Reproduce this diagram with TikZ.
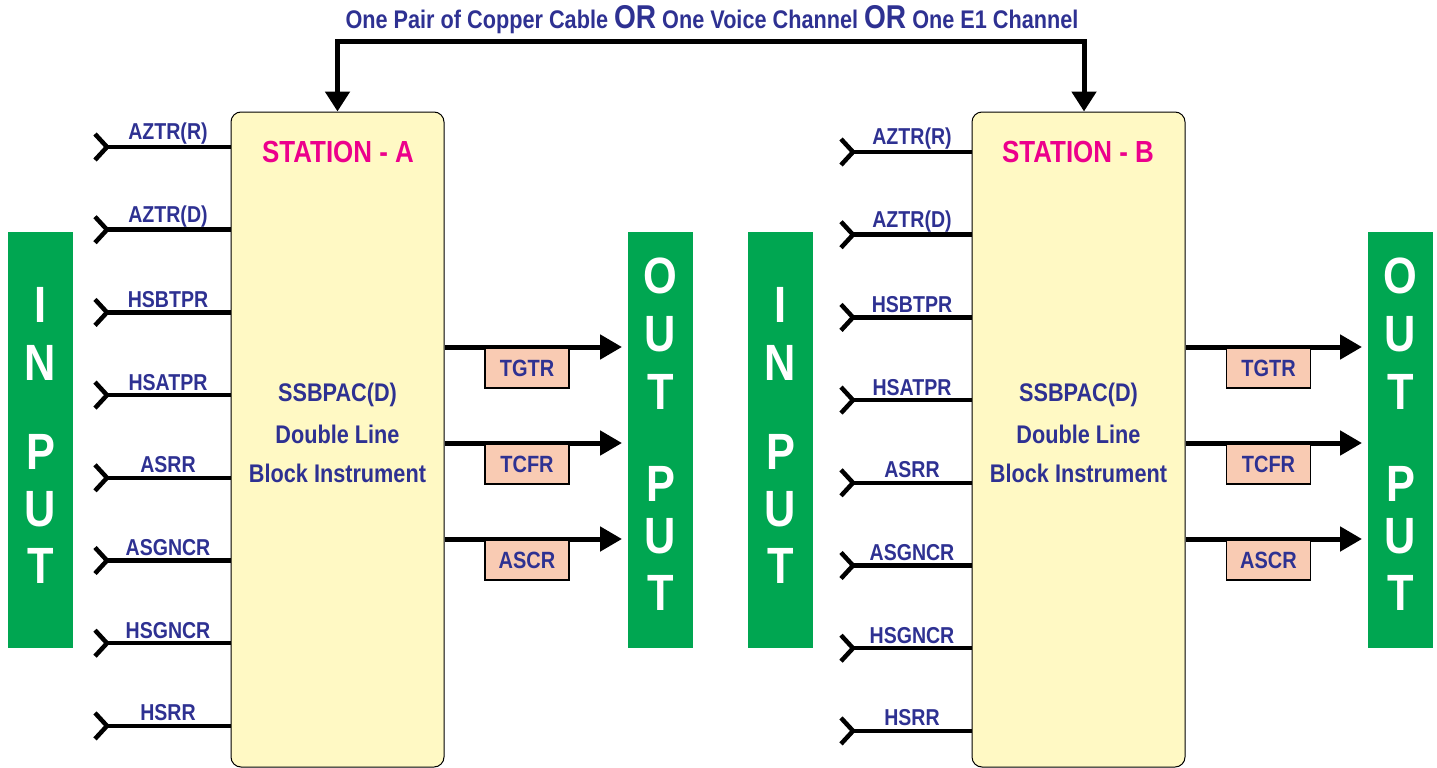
\documentclass[tikz,border=0pt]{standalone}
\usepackage{fontspec}
\setmainfont{Liberation Sans}[FakeStretch=0.85]
\usetikzlibrary{arrows.meta}
\definecolor{tblue}{HTML}{2E3192}
\definecolor{tmag}{HTML}{EC008C}
\definecolor{tgreen}{HTML}{00A651}
\definecolor{tyel}{HTML}{FFF9C4}
\definecolor{tpeach}{HTML}{F9CBB3}
\begin{document}
\begin{tikzpicture}[x=1pt,y=-1pt,
  sbox/.style={draw=black,line width=1pt,fill=tyel,rounded corners=10pt,minimum width=213pt,minimum height=655pt,inner sep=0pt},
  gbox/.style={fill=tgreen,minimum width=65pt,minimum height=416pt,inner sep=0pt},
  gletter/.style={text=white,font=\bfseries\fontsize{51}{51}\selectfont,inner sep=0pt},
  inlabel/.style={text=tblue,font=\bfseries\fontsize{23}{23}\selectfont,inner sep=0pt},
  outlabel/.style={draw=black,line width=1.5pt,fill=tpeach,minimum width=84pt,minimum height=40pt,inner sep=0pt,text=tblue,font=\bfseries\fontsize{23.5}{23.5}\selectfont},
  stlabel/.style={text=tmag,font=\bfseries\fontsize{30.5}{30.5}\selectfont,inner sep=0pt},
  ctext/.style={text=tblue,font=\bfseries\fontsize{25.5}{25.5}\selectfont,inner sep=0pt},
  inline/.style={line width=4.5pt},
  chev/.style={line width=4.5pt,miter limit=10},
  outarr/.style={line width=5pt,-{Triangle[length=22pt,width=24pt]}},
  toparr/.style={line width=5pt,{Triangle[length=20pt,width=24pt]}-{Triangle[length=20pt,width=24pt]}}]
\useasboundingbox (0,0) rectangle (1437,768);
% station boxes
\node[sbox] (A) at (337.5,439.5) {};
\node[sbox] (B) at (1078.5,439.5) {};
% green boxes
\node[gbox] (inA) at (40.5,440) {};
\node[gbox] (outA) at (660.5,440) {};
\node[gbox] (inB) at (780.5,440) {};
\node[gbox] (outB) at (1400.5,440) {};
% INPUT letters
\foreach \l/\y [count=\k] in {I/305,N/363,P/452,U/509,T/566}{
  \node[gletter] (ia\k) at (40.5,\y) {\l};
  \node[gletter] (ib\k) at (780.5,\y) {\l};
}
% OUTPUT letters
\foreach \l/\y [count=\k] in {O/276,U/334,T/392,P/484,U/536,T/593}{
  \node[gletter] (oa\k) at (660.5,\y) {\l};
  \node[gletter] (ob\k) at (1400.5,\y) {\l};
}
% station labels and central text
\node[stlabel] (stA) at (338,152) {STATION - A};
\node[stlabel] (stB) at (1078,152) {STATION - B};
\foreach \s/\n in {A/337.5,B/1078.5}{
  \node[ctext] (c1\s) at (\n,395) {SSBPAC(D)};
  \node[ctext] (c2\s) at (\n,434) {Double Line};
  \node[ctext] (c3\s) at (\n,473) {Block Instrument};
}
% inputs
\foreach \t [count=\i from 0] in {AZTR(R),AZTR(D),HSBTPR,HSATPR,ASRR,ASGNCR,HSGNCR,HSRR}{
  \pgfmathsetmacro{\ya}{147+82.7*\i}
  \pgfmathsetmacro{\yb}{152+82.7*\i}
  \coordinate (ca\i) at (107,\ya);
  \coordinate (cb\i) at (853,\yb);
  \draw[inline] (ca\i) -- (A.west |- ca\i);
  \draw[inline] (cb\i) -- (B.west |- cb\i);
  \draw[chev] ([shift={(-12,-13)}]ca\i) -- (ca\i) -- ([shift={(-12,13)}]ca\i);
  \draw[chev] ([shift={(-12,-13)}]cb\i) -- (cb\i) -- ([shift={(-12,13)}]cb\i);
  \node[inlabel] (la\i) at (168,\ya-13) {\t};
  \node[inlabel] (lb\i) at (912,\yb-13) {\t};
}
% outputs
\foreach \t/\y/\ly [count=\j] in {TGTR/347/368,TCFR/443/464,ASCR/539/560}{
  \coordinate (pa\j) at (622,\y);
  \coordinate (pb\j) at (1362,\y);
  \draw[outarr] (A.east |- pa\j) -- (pa\j);
  \draw[outarr] (B.east |- pb\j) -- (pb\j);
  \node[outlabel] (ta\j) at (527,\ly) {\t};
  \node[outlabel] (tb\j) at (1268.5,\ly) {\t};
}
% top connector
\coordinate (topc) at (712,42);
\draw[toparr] (A.north) |- (topc) -| ([xshift=5.5pt]B.north);
\node[text=tblue,font=\bfseries\fontsize{25.5}{25.5}\selectfont,inner sep=0pt] (top) at (712,20)
  {One Pair of Copper Cable {\fontsize{33}{33}\selectfont OR} One Voice Channel {\fontsize{33}{33}\selectfont OR} One E1 Channel};
\end{tikzpicture}
\end{document}
